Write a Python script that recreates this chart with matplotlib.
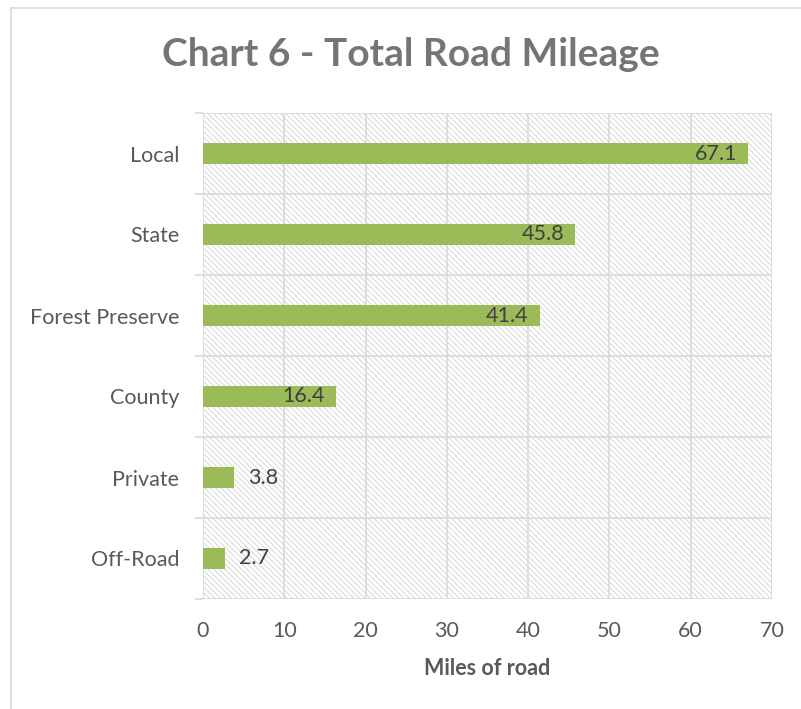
import matplotlib.pyplot as plt
from matplotlib.patches import Rectangle
from matplotlib.lines import Line2D
import numpy as np

plt.rcParams['font.family'] = ['Lato', 'DejaVu Sans']
plt.rcParams['hatch.linewidth'] = 0.6

categories = ["Local", "State", "Forest Preserve", "County", "Private", "Off-Road"]
miles      = [67.1, 45.8, 41.4, 16.4, 3.8, 2.7]
x_ticks    = [0, 10, 20, 30, 40, 50, 60, 70]

bar_col   = "#9bbb59"
grid_col  = "#d9d9d9"
text_col  = "#595959"
label_col = "#404040"

fig = plt.figure(figsize=(8.01, 7.09), dpi=100)
ax  = fig.add_axes([203/801, 1-599/709, (772-203)/801, (599-113)/709])

# hatched plot area
ax.add_patch(Rectangle((0, 0), 1, 1, transform=ax.transAxes, facecolor="none",
                       edgecolor="#d0d0d0", hatch="\\\\\\\\\\\\", linewidth=0, zorder=0))

y = np.arange(len(categories))
ax.barh(y, miles, height=0.27, color=bar_col, zorder=3)

for yi, v in zip(y, miles):
    if v > 10:
        ax.annotate("%.1f" % v, (v, yi), xytext=(-8, 0), textcoords="offset points",
                    ha="right", va="center", fontsize=15.5, color=label_col, zorder=4)
    else:
        ax.annotate("%.1f" % v, (v, yi), xytext=(10, 0), textcoords="offset points",
                    ha="left", va="center", fontsize=15.5, color=label_col, zorder=4)

ax.set_xlim(0, 70)
ax.set_ylim(len(categories) - 0.5, -0.5)
ax.set_xticks(x_ticks)
ax.set_xticklabels([str(t) for t in x_ticks])
ax.set_yticks(y)
ax.set_yticklabels(categories)
ax.set_yticks(np.arange(len(categories) + 1) - 0.5, minor=True)

ax.tick_params(axis="x", length=0, pad=16, labelsize=15.5, labelcolor=text_col)
ax.tick_params(axis="y", which="major", length=0, pad=17, labelsize=15.5, labelcolor=text_col)
ax.tick_params(axis="y", which="minor", length=6, width=1.2, color=grid_col)

ax.grid(axis="x", color=grid_col, linewidth=1.2, zorder=1)
ax.grid(axis="y", which="minor", color=grid_col, linewidth=1.2, zorder=1)
ax.set_axisbelow(True)
for s in ax.spines.values():
    s.set_visible(False)

ax.set_xlabel("Miles of road", fontsize=15.5, fontweight="bold", color=text_col, labelpad=12)

fig.text(411/801, 1-55/709, "Chart 6 - Total Road Mileage", ha="center", va="center",
         fontsize=28, fontweight="bold", color="#757575")

# chart frame (cropped on the right and bottom)
fig.add_artist(Line2D([11/801, 1], [1-8/709, 1-8/709], transform=fig.transFigure,
                      color=grid_col, linewidth=1.2))
fig.add_artist(Line2D([11/801, 11/801], [0, 1-8/709], transform=fig.transFigure,
                      color=grid_col, linewidth=1.2))

fig.savefig("out.png", dpi=100)
